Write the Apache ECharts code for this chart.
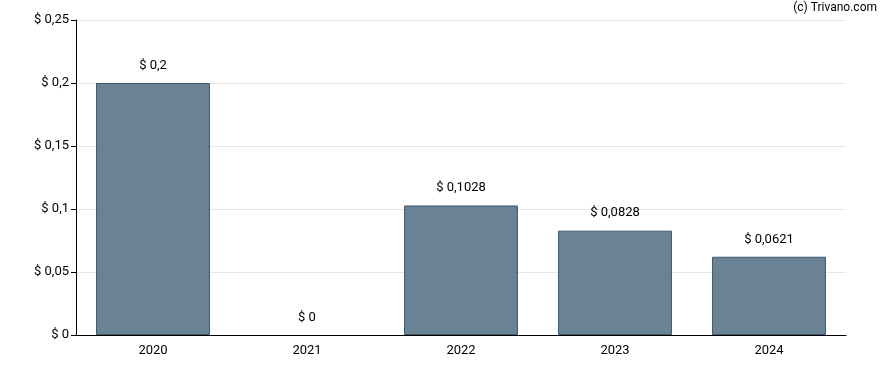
<!DOCTYPE html>
<html>
<head>
<meta charset="utf-8">
<script src="https://cdn.jsdelivr.net/npm/echarts@6/dist/echarts.min.js"></script>
<style>html,body{margin:0;padding:0;background:#fff;}#c{width:888px;height:370px;}</style>
</head>
<body>
<div id="c"></div>
<script>
const categories = ['2020', '2021', '2022', '2023', '2024'];
const values = [0.2, 0, 0.1028, 0.0828, 0.0621];
const yTicks = [0, 0.05, 0.1, 0.15, 0.2, 0.25];

function fmt(v) {
  return '$ ' + String(+v.toFixed(4)).replace('.', ',');
}

const chart = echarts.init(document.getElementById('c'), null, {renderer: 'canvas'});
chart.setOption({
  animation: false,
  textStyle: {fontFamily: 'Roboto'},
  grid: {left: 76, right: 42, top: 20, bottom: 35, containLabel: false},
  graphic: [{
    type: 'text', right: 11, top: 2,
    style: {text: '(c) Trivano.com', fill: '#000', font: '12px Roboto'}
  }],
  xAxis: {
    type: 'category',
    data: categories,
    axisLine: {lineStyle: {color: '#000', width: 1}},
    axisTick: {alignWithLabel: true, length: 5, lineStyle: {color: '#000'}},
    axisLabel: {color: '#000', fontSize: 13, margin: 9}
  },
  yAxis: {
    type: 'value',
    min: yTicks[0],
    max: yTicks[yTicks.length - 1],
    interval: 0.05,
    axisLine: {show: true, lineStyle: {color: '#000', width: 1}},
    axisTick: {show: true, length: 5, lineStyle: {color: '#000'}},
    axisLabel: {color: '#000', fontSize: 13, margin: 7, formatter: fmt},
    splitLine: {lineStyle: {color: '#e6e6e6', width: 1}}
  },
  series: [{
    type: 'bar',
    data: values.map(v => ({value: v, itemStyle: v === 0 ? {borderWidth: 0, color: 'transparent'} : {}})),
    barWidth: '74%',
    itemStyle: {color: 'rgba(72,104,124,0.82)', borderColor: '#3f5a6d', borderWidth: 1},
    label: {
      show: true, position: 'top', distance: 11,
      color: '#000', fontSize: 13,
      formatter: p => fmt(p.value)
    }
  }]
});
</script>
</body>
</html>
